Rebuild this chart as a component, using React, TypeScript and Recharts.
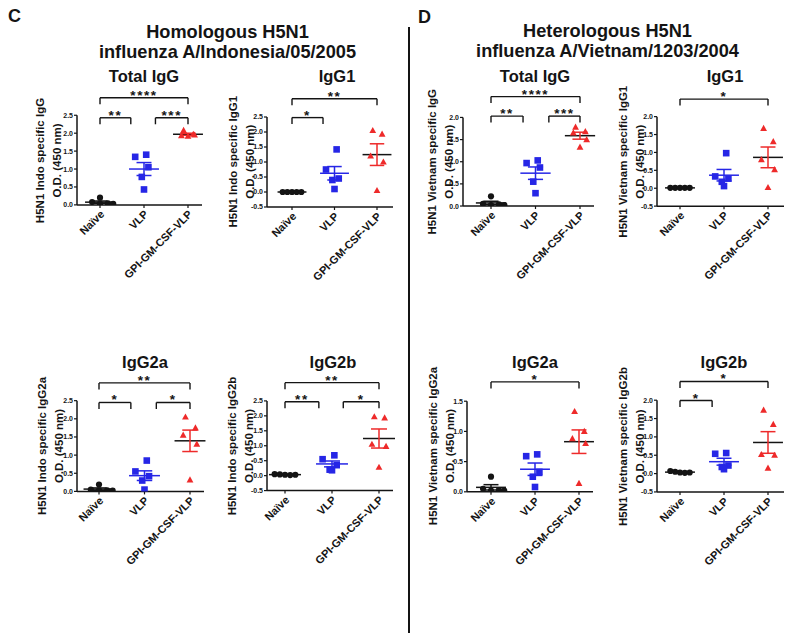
import React from 'react';
import { ComposedChart, XAxis, YAxis, Scatter, ReferenceLine } from 'recharts';

const FONT = "'Liberation Sans', Arial, Helvetica, sans-serif";
const BLACK = '#141414';
const BLUE = '#2626e6';
const RED = '#ee2a2a';

const groupLabels = ['Naïve', 'VLP', 'GPI-GM-CSF-VLP'];

// C: Homologous H5N1 influenza A/Indonesia/05/2005
const indoTotalNaive = [0.2, 0.08, 0.04, 0.03, 0.03];
const indoTotalVLP = [1.4, 1.34, 1.05, 0.78, 0.43];
const indoTotalGPI = [2.08, 1.97, 1.93, 1.95, 1.92];
const indoIgG1Naive = [0, 0, 0, 0, 0];
const indoIgG1VLP = [1.42, 0.75, 0.45, 0.4, 0.1];
const indoIgG1GPI = [2.05, 1.93, 1.2, 1.0, 0.05];
const indoIgG2aNaive = [0.19, 0.05, 0.03, 0.03, 0.02];
const indoIgG2aVLP = [0.85, 0.55, 0.42, 0.3, 0.05];
const indoIgG2aGPI = [2.05, 1.75, 1.55, 1.3, 0.32];
const indoIgG2bNaive = [0.05, 0.04, 0.03, 0.02, 0.03];
const indoIgG2bVLP = [0.68, 0.55, 0.35, 0.2, 0.18];
const indoIgG2bGPI = [1.97, 1.93, 1.05, 0.98, 0.28];

// D: Heterologous H5N1 influenza A/Vietnam/1203/2004
const vnTotalNaive = [0.22, 0.05, 0.04, 0.02, 0.02];
const vnTotalVLP = [1.03, 0.97, 0.87, 0.55, 0.29];
const vnTotalGPI = [1.78, 1.68, 1.65, 1.5, 1.33];
const vnIgG1Naive = [0.01, 0.01, 0.01, 0.01, 0.01];
const vnIgG1VLP = [0.98, 0.33, 0.27, 0.18, 0.06];
const vnIgG1GPI = [1.67, 1.3, 0.8, 0.52, 0.02];
const vnIgG2aNaive = [0.25, 0.05, 0.03, 0.02, 0.02];
const vnIgG2aVLP = [0.62, 0.59, 0.33, 0.25, 0.08];
const vnIgG2aGPI = [1.33, 1.0, 0.88, 0.8, 0.14];
const vnIgG2bNaive = [0.07, 0.05, 0.03, 0.02, 0.03];
const vnIgG2bVLP = [0.56, 0.54, 0.22, 0.18, 0.12];
const vnIgG2bGPI = [1.73, 1.34, 0.52, 0.5, 0.15];

// tick sets
const ticks0to25 = [0, 0.5, 1, 1.5, 2, 2.5];
const ticksM05to25 = [-0.5, 0, 0.5, 1, 1.5, 2, 2.5];
const ticks0to20 = [0, 0.5, 1, 1.5, 2];
const ticksM05to20 = [-0.5, 0, 0.5, 1, 1.5, 2];
const ticks0to15 = [0, 0.5, 1, 1.5];

// significance brackets: [from group, to group, level, label]
type Bracket = [number, number, number, string];
const indoTotalBrackets: Bracket[] = [[0, 2, 2.99, '****'], [0, 0.7, 2.43, '**'], [1.26, 2, 2.43, '***']];
const indoIgG1Brackets: Bracket[] = [[0, 2, 3.11, '**'], [0, 0.73, 2.48, '*']];
const indoIgG2aBrackets: Bracket[] = [[0, 2, 2.99, '**'], [0, 0.7, 2.45, '*'], [1.26, 2, 2.45, '*']];
const indoIgG2bBrackets: Bracket[] = [[0, 2, 3.11, '**'], [0, 0.72, 2.47, '**'], [1.24, 2, 2.47, '*']];
const vnTotalBrackets: Bracket[] = [[0, 2, 2.47, '****'], [0, 0.72, 2.03, '**'], [1.3, 2, 2.03, '***']];
const vnIgG1Brackets: Bracket[] = [[0, 2, 2.49, '*']];
const vnIgG2aBrackets: Bracket[] = [[0, 2, 1.82, '*']];
const vnIgG2bBrackets: Bracket[] = [[0, 2, 2.51, '*'], [0, 0.73, 1.99, '*']];

// horizontal spread of the points inside a group (layout)
const spreadRow = [-0.22, -0.11, 0, 0.11, 0.22];
const spreadNaive = [0, -0.18, 0.18, 0, 0.3];
const spreadA = [0.05, -0.2, 0.1, -0.05, 0.0];
const spreadB = [-0.1, 0.12, -0.15, 0.15, 0.0];

const mean = (a: number[]) => a.reduce((s, v) => s + v, 0) / a.length;
const sem = (a: number[]) => {
  const m = mean(a);
  const v = a.reduce((s, x) => s + (x - m) * (x - m), 0) / (a.length - 1);
  return Math.sqrt(v / a.length);
};

const Circle = (p: any) => <circle cx={p.cx} cy={p.cy} r={3.1} fill={BLACK} />;
const Square = (p: any) => <rect x={p.cx - 3.3} y={p.cy - 3.3} width={6.6} height={6.6} fill={BLUE} />;
const Tri = (p: any) => (
  <path d={`M${p.cx},${p.cy - 3.6} L${p.cx + 3.4},${p.cy + 2.6} L${p.cx - 3.4},${p.cy + 2.6} Z`} fill={RED} />
);
const markers = [Circle, Square, Tri];
const barColors = [BLACK, BLUE, RED];
const meanColors = [BLACK, BLUE, BLACK];

const StarLabel = (p: any) => (
  <text x={p.cx} y={p.cy + 2} textAnchor="middle" fontSize={13.5} fontWeight="bold" letterSpacing={1.6} fill={BLACK}>
    {p.payload.label}
  </text>
);

const XTick = (p: any) => {
  const ax = p.x + 5;
  const ay = p.y + 5;
  return (
    <text x={ax} y={ay} transform={`rotate(-45 ${ax} ${ay})`} textAnchor="end" fontSize={11} fontWeight="bold" fill={BLACK}>
      {groupLabels[p.payload.value]}
    </text>
  );
};

type Cfg = {
  axisX: number; catX0: number; sp: number; xExt: number;
  y0: number; scale: number; yMin: number; yMax: number; ticks: number[];
  groups: number[][]; spreads: number[][]; brackets: Bracket[];
};

const panels: Cfg[] = [
  { axisX: 77, catX0: 100, sp: 44, xExt: 14, y0: 205.3, scale: 35.85, yMin: 0, yMax: 3.4, ticks: ticks0to25,
    groups: [indoTotalNaive, indoTotalVLP, indoTotalGPI], spreads: [spreadNaive, spreadA, spreadB], brackets: indoTotalBrackets },
  { axisX: 267, catX0: 292, sp: 42.5, xExt: 16, y0: 191.7, scale: 30, yMin: -0.5, yMax: 3.5, ticks: ticksM05to25,
    groups: [indoIgG1Naive, indoIgG1VLP, indoIgG1GPI], spreads: [spreadRow, spreadA, spreadB], brackets: indoIgG1Brackets },
  { axisX: 463, catX0: 491, sp: 44.5, xExt: 14, y0: 206, scale: 44.3, yMin: 0, yMax: 2.8, ticks: ticks0to20,
    groups: [vnTotalNaive, vnTotalVLP, vnTotalGPI], spreads: [spreadNaive, spreadA, spreadB], brackets: vnTotalBrackets },
  { axisX: 657, catX0: 680, sp: 44, xExt: 16, y0: 188.3, scale: 35.8, yMin: -0.5, yMax: 2.8, ticks: ticksM05to20,
    groups: [vnIgG1Naive, vnIgG1VLP, vnIgG1GPI], spreads: [spreadRow, spreadA, spreadB], brackets: vnIgG1Brackets },
  { axisX: 77, catX0: 99, sp: 45.5, xExt: 14, y0: 491.7, scale: 36.3, yMin: 0, yMax: 3.4, ticks: ticks0to25,
    groups: [indoIgG2aNaive, indoIgG2aVLP, indoIgG2aGPI], spreads: [spreadNaive, spreadA, spreadB], brackets: indoIgG2aBrackets },
  { axisX: 267, catX0: 285, sp: 47, xExt: 14, y0: 475.7, scale: 29.9, yMin: -0.5, yMax: 3.5, ticks: ticksM05to25,
    groups: [indoIgG2bNaive, indoIgG2bVLP, indoIgG2bGPI], spreads: [spreadRow, spreadA, spreadB], brackets: indoIgG2bBrackets },
  { axisX: 467, catX0: 491, sp: 44, xExt: 14, y0: 491.7, scale: 60.4, yMin: 0, yMax: 2.05, ticks: ticks0to15,
    groups: [vnIgG2aNaive, vnIgG2aVLP, vnIgG2aGPI], spreads: [spreadNaive, spreadA, spreadB], brackets: vnIgG2aBrackets },
  { axisX: 657, catX0: 680, sp: 44, xExt: 16, y0: 474, scale: 36.7, yMin: -0.5, yMax: 2.85, ticks: ticksM05to20,
    groups: [vnIgG2bNaive, vnIgG2bVLP, vnIgG2bGPI], spreads: [spreadRow, spreadA, spreadB], brackets: vnIgG2bBrackets },
];

function Panel({ cfg }: { cfg: Cfg }) {
  const { axisX, catX0, sp, xExt, y0, scale, yMin, yMax, ticks, groups, spreads, brackets } = cfg;
  const xMin = -(catX0 - axisX) / sp;
  const xMax = 2 + xExt / sp;
  const plotW = (xMax - xMin) * sp;
  const top = y0 - yMax * scale;
  const bottom = y0 - yMin * scale;
  const plotH = bottom - top;
  const ML = 40, MR = 20, MT = 20, MB = 100, YW = 36, XH = 95;
  const W = ML + plotW + MR;
  const H = MT + plotH + MB;
  const drop = 6.5 / scale;
  const topTick = ticks[ticks.length - 1];
  const ls = { stroke: BLACK, strokeWidth: 1.4 };

  const refs: React.ReactElement[] = [];
  refs.push(
    <ReferenceLine key="yaxis" segment={[{ x: xMin, y: yMin }, { x: xMin, y: topTick }]} stroke={BLACK} strokeWidth={1.5} ifOverflow="visible" />
  );
  groups.forEach((g, i) => {
    const m = mean(g);
    const e = sem(g);
    refs.push(<ReferenceLine key={`m${i}`} segment={[{ x: i - 0.34, y: m }, { x: i + 0.34, y: m }]} stroke={meanColors[i]} strokeWidth={1.5} ifOverflow="visible" />);
    refs.push(<ReferenceLine key={`v${i}`} segment={[{ x: i, y: m - e }, { x: i, y: m + e }]} stroke={barColors[i]} strokeWidth={1.5} ifOverflow="visible" />);
    refs.push(<ReferenceLine key={`t${i}`} segment={[{ x: i - 0.17, y: m + e }, { x: i + 0.17, y: m + e }]} stroke={barColors[i]} strokeWidth={1.5} ifOverflow="visible" />);
    refs.push(<ReferenceLine key={`b${i}`} segment={[{ x: i - 0.17, y: m - e }, { x: i + 0.17, y: m - e }]} stroke={barColors[i]} strokeWidth={1.5} ifOverflow="visible" />);
  });
  brackets.forEach((b, k) => {
    refs.push(<ReferenceLine key={`bh${k}`} segment={[{ x: b[0], y: b[2] }, { x: b[1], y: b[2] }]} {...ls} ifOverflow="visible" />);
    refs.push(<ReferenceLine key={`bl${k}`} segment={[{ x: b[0], y: b[2] }, { x: b[0], y: b[2] - drop }]} {...ls} ifOverflow="visible" />);
    refs.push(<ReferenceLine key={`br${k}`} segment={[{ x: b[1], y: b[2] }, { x: b[1], y: b[2] - drop }]} {...ls} ifOverflow="visible" />);
  });

  return (
    <div style={{ position: 'absolute', left: axisX - ML, top: top - MT, width: W, height: H }}>
      <ComposedChart width={W} height={H} margin={{ top: MT, right: MR, bottom: MB - XH, left: ML - YW }}>
        <XAxis
          type="number" dataKey="x" domain={[xMin, xMax]} allowDataOverflow ticks={[0, 1, 2]} interval={0}
          height={XH} tickSize={3} tick={XTick} axisLine={{ stroke: BLACK, strokeWidth: 1.5 }} tickLine={{ stroke: BLACK, strokeWidth: 1.2 }}
        />
        <YAxis
          type="number" dataKey="y" domain={[yMin, yMax]} allowDataOverflow ticks={ticks} interval={0}
          width={YW} tickSize={3} tickMargin={1} axisLine={false} tickLine={{ stroke: BLACK, strokeWidth: 1.2 }}
          tick={{ fontSize: 7, fontWeight: 'bold', fill: BLACK }} tickFormatter={(v: number) => v.toFixed(1)}
        />
        {refs}
        {groups.map((g, i) => (
          <Scatter
            key={`s${i}`}
            data={g.map((v, k) => ({ x: i + spreads[i][k], y: v }))}
            shape={markers[i]}
            isAnimationActive={false}
          />
        ))}
        <Scatter
          data={brackets.map((b) => ({ x: (b[0] + b[1]) / 2, y: b[2], label: b[3] }))}
          shape={StarLabel}
          isAnimationActive={false}
        />
      </ComposedChart>
    </div>
  );
}

const titles = [
  { t: 'Total IgG', x: 144, y: 82 },
  { t: 'IgG1', x: 337, y: 82 },
  { t: 'Total IgG', x: 535, y: 82 },
  { t: 'IgG1', x: 725, y: 82 },
  { t: 'IgG2a', x: 145, y: 368 },
  { t: 'IgG2b', x: 333, y: 368 },
  { t: 'IgG2a', x: 535, y: 368 },
  { t: 'IgG2b', x: 724, y: 368 },
];

const yLabels = [
  { l: 'H5N1 Indo specific IgG', x: 40, cy: 160.5 },
  { l: 'H5N1 Indo specific IgG1', x: 233, cy: 161.7 },
  { l: 'H5N1 Vietnam specific IgG', x: 432, cy: 161.7 },
  { l: 'H5N1 Vietnam specific IgG1', x: 623, cy: 161.7 },
  { l: 'H5N1 Indo specific IgG2a', x: 42, cy: 446 },
  { l: 'H5N1 Indo specific IgG2b', x: 232, cy: 446 },
  { l: 'H5N1 Vietnam specific IgG2a', x: 433, cy: 446 },
  { l: 'H5N1 Vietnam specific IgG2b', x: 623, cy: 446.5 },
];

export default function App() {
  return (
    <div style={{ position: 'absolute', left: 0, top: 0, width: 800, height: 640, background: '#fff', fontFamily: FONT, overflow: 'hidden' }}>
      <svg width={800} height={640} style={{ position: 'absolute', left: 0, top: 0 }}>
        <g fontFamily={FONT} fontWeight="bold" fill={BLACK}>
          <text x={8} y={22} fontSize={18}>C</text>
          <text x={418} y={23} fontSize={18}>D</text>
          <text x={227.5} y={38} fontSize={18.2} textAnchor="middle">Homologous H5N1</text>
          <text x={227.5} y={58} fontSize={18.2} textAnchor="middle">influenza A/Indonesia/05/2005</text>
          <text x={607.5} y={37} fontSize={18.2} textAnchor="middle">Heterologous H5N1</text>
          <text x={607.5} y={57} fontSize={18.2} textAnchor="middle">influenza A/Vietnam/1203/2004</text>
          {titles.map((t, i) => (
            <text key={i} x={t.x} y={t.y} fontSize={16.5} textAnchor="middle">{t.t}</text>
          ))}
          {yLabels.map((l, i) => (
            <g key={i}>
              <text x={l.x} y={l.cy} transform={`rotate(-90 ${l.x} ${l.cy})`} textAnchor="middle" dominantBaseline="central" fontSize={11.5}>{l.l}</text>
              <text x={l.x + 17} y={l.cy} transform={`rotate(-90 ${l.x + 17} ${l.cy})`} textAnchor="middle" dominantBaseline="central" fontSize={11.5}>O.D.  (450 nm)</text>
            </g>
          ))}
        </g>
        <line x1={409} y1={27} x2={409} y2={633} stroke={BLACK} strokeWidth={2} />
      </svg>
      {panels.map((p, i) => (
        <Panel key={i} cfg={p} />
      ))}
    </div>
  );
}
